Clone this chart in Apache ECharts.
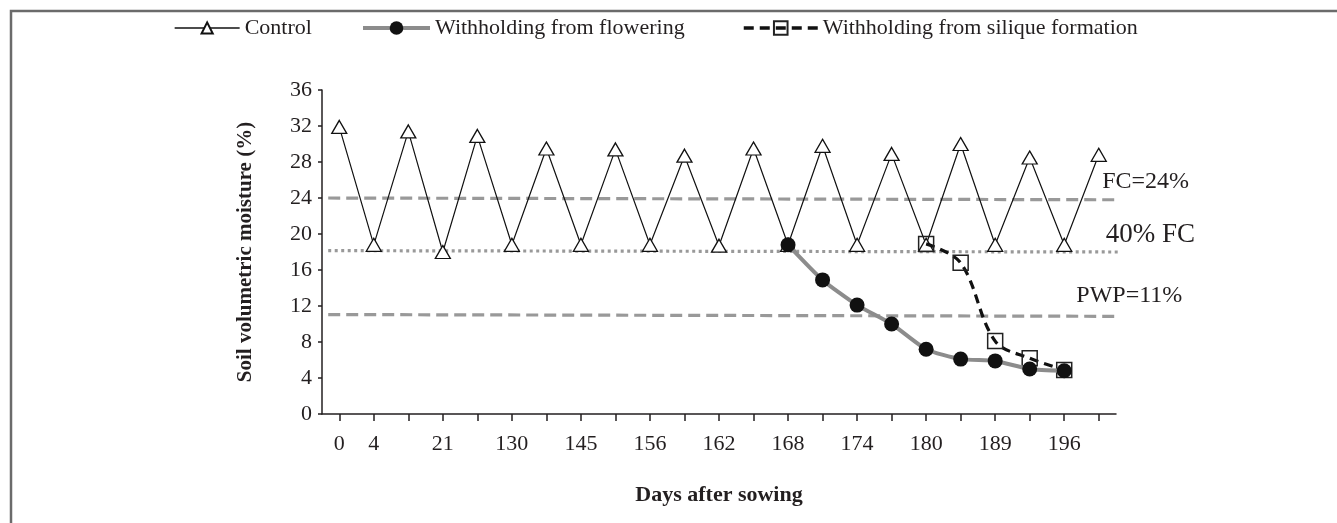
<!DOCTYPE html>
<html>
<head>
<meta charset="utf-8">
<script src="https://cdn.jsdelivr.net/npm/echarts@6/dist/echarts.min.js"></script>
<style>
html,body{margin:0;padding:0;background:#fff;}
#chart{width:1337px;height:523px;}
</style>
</head>
<body>
<div id="chart"></div>
<script>
// ---- data ----
const dayLabels = ['0','4','','21','','130','','145','','156','','162','','168','','174','','180','','189','','196',''];
const controlValues = [31.9, 18.8, 31.4, 18.0, 30.9, 18.8, 29.5, 18.8, 29.4, 18.8, 28.7, 18.7, 29.5, 18.8, 29.8, 18.8, 28.9, 18.8, 30.0, 18.8, 28.5, 18.8, 28.8];
const floweringStart = 13;
const floweringValues = [18.8, 14.9, 12.1, 10.0, 7.2, 6.1, 5.9, 5.0, 4.8];
const siliqueStart = 17;
const siliqueValues = [18.9, 16.8, 8.1, 6.2, 4.9];
const refLines = [
  {name: 'FC=24%', from: [-0.32, 24.0], to: [22.82, 23.8], type: [12, 6], label: 'FC=24%'},
  {name: '40% FC', from: [-0.32, 18.15], to: [22.67, 18.0], type: [3, 3.5], label: '40% FC'},
  {name: 'PWP=11%', from: [-0.32, 11.05], to: [22.82, 10.85], type: [12, 6], label: 'PWP=11%'}
];
const yTicks = {min: 0, max: 36, interval: 4};

const FONT = 'Liberation Serif';
const TXT = '#231f20';

function padSeries(start, vals) {
  return dayLabels.map((_, i) => (i >= start && i < start + vals.length) ? vals[i - start] : null);
}

const chart = echarts.init(document.getElementById('chart'), null, {renderer: 'canvas'});

const refSeries = refLines.map(r => ({
  name: r.name,
  type: 'line',
  xAxisIndex: 1,
  yAxisIndex: 0,
  data: [r.from, r.to],
  symbol: 'none',
  clip: false,
  silent: true,
  z: 1,
  lineStyle: {color: '#999', width: 3.2, type: r.type, cap: 'butt'}
}));

const legendText = {fontSize: 22, fontFamily: FONT, color: TXT};

chart.setOption({
  animation: false,
  backgroundColor: '#fff',
  grid: {left: 322, right: 221, top: 90, bottom: 109, containLabel: false},
  legend: [
    {left: 169, top: 12, data: ['Control'], itemWidth: 65, itemHeight: 14, textStyle: legendText,
      lineStyle: {width: 1.3}},
    {left: 356, top: 12, data: ['Withholding from flowering'], itemWidth: 67, itemHeight: 17, textStyle: legendText,
      lineStyle: {width: 4}},
    {left: 737, top: 12, data: ['Withholding from silique formation'], itemWidth: 74, itemHeight: 17, textStyle: legendText,
      lineStyle: {width: 3.5, type: [10, 6]}}
  ],
  xAxis: [
    {
      type: 'category',
      data: dayLabels,
      boundaryGap: true,
      name: 'Days after sowing',
      nameLocation: 'middle',
      nameGap: 70,
      nameTextStyle: {fontSize: 22, fontWeight: 'bold', fontFamily: FONT, color: TXT},
      axisLine: {onZero: false, lineStyle: {color: '#231f20', width: 1.5}},
      axisTick: {show: true, alignWithLabel: true, interval: 0, length: 7, lineStyle: {color: '#231f20', width: 1.5}},
      axisLabel: {interval: 0, margin: 19, fontSize: 22, fontFamily: FONT, color: TXT},
      splitLine: {show: false}
    },
    {
      type: 'value',
      min: -0.5,
      max: dayLabels.length - 0.5,
      show: false
    }
  ],
  yAxis: {
    type: 'value',
    min: yTicks.min, max: yTicks.max, interval: yTicks.interval,
    name: 'Soil volumetric moisture (%)',
    nameLocation: 'middle',
    nameGap: 66,
    nameTextStyle: {fontSize: 21, fontWeight: 'bold', fontFamily: FONT, color: TXT},
    axisLine: {show: true, onZero: false, lineStyle: {color: '#231f20', width: 1.5}},
    axisTick: {show: true, length: 4, lineStyle: {color: '#231f20', width: 1.5}},
    axisLabel: {margin: 10, fontSize: 22, fontFamily: FONT, color: TXT},
    splitLine: {show: false}
  },
  series: [
    ...refSeries,
    {
      name: 'Control',
      type: 'line',
      data: controlValues,
      symbol: 'triangle',
      symbolSize: [15, 13],
      z: 3,
      lineStyle: {color: '#111', width: 1.2},
      itemStyle: {color: '#fff', borderColor: '#111', borderWidth: 1.3}
    },
    {
      name: 'Withholding from silique formation',
      type: 'line',
      data: padSeries(siliqueStart, siliqueValues),
      smooth: 0.35,
      symbol: 'rect',
      symbolSize: 15,
      z: 4,
      lineStyle: {color: '#111', width: 3.2, type: [9, 6]},
      itemStyle: {color: 'rgba(255,255,255,0)', borderColor: '#222', borderWidth: 1.5}
    },
    {
      name: 'Withholding from flowering',
      type: 'line',
      data: padSeries(floweringStart, floweringValues),
      smooth: 0.2,
      symbol: 'circle',
      symbolSize: 15,
      z: 5,
      lineStyle: {color: '#8c8c8c', width: 4},
      itemStyle: {color: '#111'}
    }
  ]
});

// reference line labels and frame, positioned via the chart's own scales
const labelDefs = [
  {text: refLines[0].label, at: [22.1, 25.8], size: 24},
  {text: refLines[1].label, at: [22.2, 19.9], size: 27},
  {text: refLines[2].label, at: [21.35, 13.1], size: 24}
];
const graphics = labelDefs.map(d => {
  const p = chart.convertToPixel({xAxisIndex: 1, yAxisIndex: 0}, d.at);
  return {type: 'text', x: p[0], y: p[1], silent: true,
    style: {text: d.text, fontSize: d.size, fontFamily: FONT, fill: TXT, textVerticalAlign: 'middle', verticalAlign: 'middle'}};
});
graphics.push({type: 'polyline', silent: true, shape: {points: [[11, 523], [11, 11], [1337, 11]]},
  style: {stroke: '#6b6b6b', lineWidth: 2.5, fill: null}});
chart.setOption({graphic: graphics});
</script>
</body>
</html>
